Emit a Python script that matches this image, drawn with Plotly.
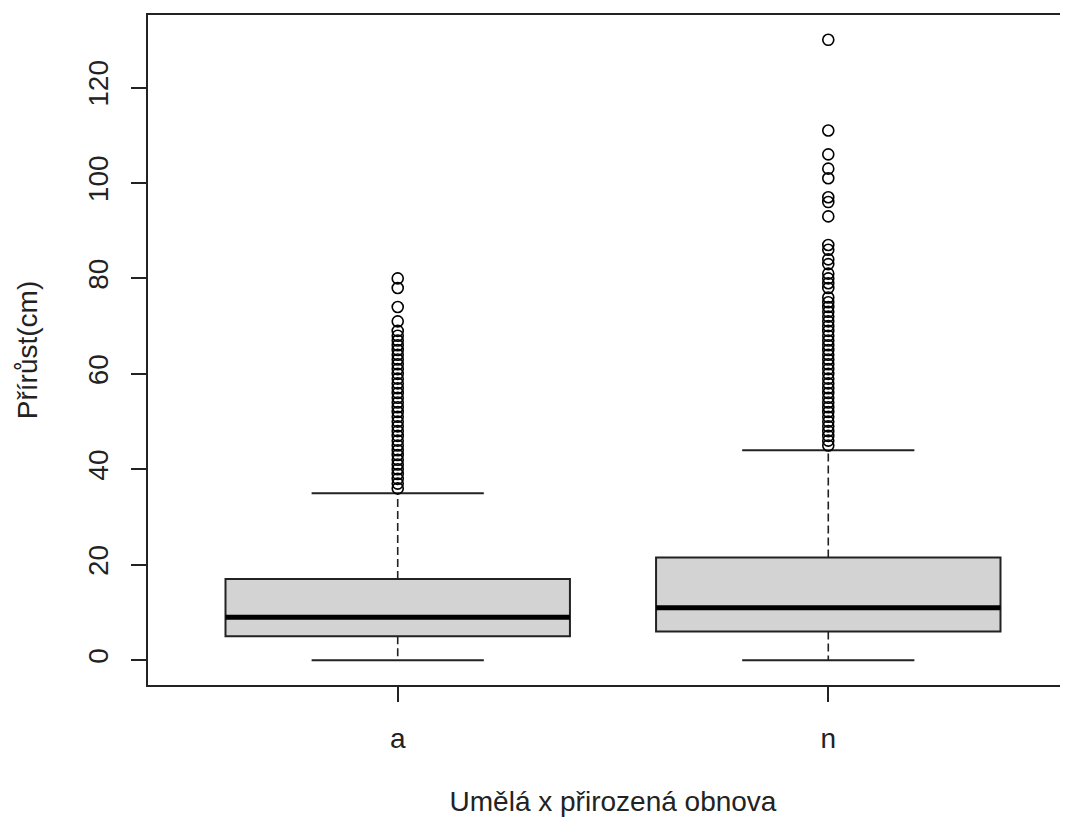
import plotly.graph_objects as go

# groups
groups = ['a', 'n']
xpos = [1, 2]

# box statistics
q1 = [5, 6]
median = [9, 11]
q3 = [17, 21.5]
lower_whisker = [0, 0]
upper_whisker = [35, 44]

# outliers above the upper whisker
outliers_a = list(range(36, 70)) + [71, 74, 78, 80]
outliers_n = list(range(45, 77)) + [78, 79, 80, 81, 83, 84, 86, 87,
                                    93, 96, 97, 101, 103, 106, 111, 130]
outliers = [outliers_a, outliers_n]

FONT = "Liberation Sans, Arial, sans-serif"
box_w = 0.8
cap_w = 0.4

fig = go.Figure()

for i, g in enumerate(groups):
    x = xpos[i]
    # box body (fences equal to quartiles so whiskers are drawn separately)
    fig.add_trace(go.Box(x=[x], q1=[q1[i]], median=[median[i]], q3=[q3[i]],
                         lowerfence=[q1[i]], upperfence=[q3[i]],
                         width=box_w, whiskerwidth=0,
                         fillcolor='#D3D3D3', line=dict(color='#222', width=2),
                         boxpoints=False, showlegend=False, hoverinfo='skip'))
    # thick median
    fig.add_trace(go.Scatter(x=[x - box_w / 2, x + box_w / 2], y=[median[i], median[i]],
                             mode='lines', line=dict(color='black', width=5),
                             showlegend=False, hoverinfo='skip'))
    # dashed whiskers
    fig.add_trace(go.Scatter(x=[x, x, None, x, x],
                             y=[q3[i], upper_whisker[i], None, q1[i], lower_whisker[i]],
                             mode='lines', line=dict(color='#222', width=1.6, dash='8px,4px'),
                             showlegend=False, hoverinfo='skip'))
    # staples
    fig.add_trace(go.Scatter(x=[x - cap_w / 2, x + cap_w / 2, None, x - cap_w / 2, x + cap_w / 2],
                             y=[upper_whisker[i], upper_whisker[i], None,
                                lower_whisker[i], lower_whisker[i]],
                             mode='lines', line=dict(color='#222', width=2),
                             showlegend=False, hoverinfo='skip'))
    # outliers
    fig.add_trace(go.Scatter(x=[x] * len(outliers[i]), y=outliers[i], mode='markers',
                             marker=dict(symbol='circle-open', size=11, color='black',
                                         line=dict(width=1.6, color='black')),
                             showlegend=False))

# the page body has an 8px margin, so the figure is shifted by 8px
fig.update_layout(
    width=1070, height=809,
    margin=dict(l=140, r=0, t=7, b=132),
    paper_bgcolor='white', plot_bgcolor='white',
    font=dict(family=FONT, size=28, color='#222'),
    xaxis=dict(range=[0.42, 2.58], tickvals=xpos, ticktext=groups,
               showgrid=False, zeroline=False,
               showline=True, mirror=True, linecolor='#222', linewidth=2,
               ticks='outside', ticklen=15, tickwidth=2, tickcolor='#222',
               tickfont=dict(size=28), ticklabelstandoff=12,
               title=dict(text='Umělá x přirozená obnova', font=dict(size=28), standoff=44)),
    yaxis=dict(range=[-5.2, 135.2], tickvals=[0, 20, 40, 60, 80, 100, 120],
               showgrid=False, zeroline=False,
               showline=True, linecolor='#222', linewidth=2,
               ticks='outside', ticklen=15, tickwidth=2, tickcolor='#222',
               tickangle=-90, tickfont=dict(size=28), ticklabelstandoff=12,
               title=dict(text='Přírůst(cm)', font=dict(size=28), standoff=37)),
)

fig.write_html("out.html")
